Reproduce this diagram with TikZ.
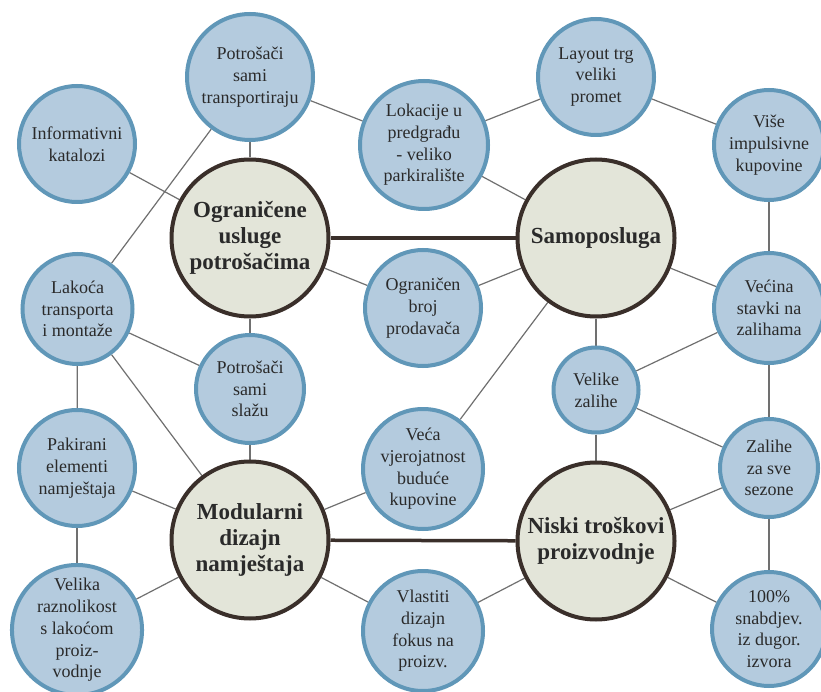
\documentclass[tikz,border=0pt]{standalone}
\usepackage{fontspec}
\setmainfont{Liberation Serif}
\usetikzlibrary{backgrounds}
\definecolor{bfill}{HTML}{B4CBDE}
\definecolor{bline}{HTML}{6097B8}
\definecolor{cfill}{HTML}{E3E5D9}
\definecolor{cline}{HTML}{3A2F2A}
\definecolor{eline}{HTML}{707070}
\definecolor{txt}{HTML}{2A2A2A}
\begin{document}
\begin{tikzpicture}[x=1pt,y=-1pt,
  sat/.style={circle, draw=bline, fill=bfill, line width=4pt, inner sep=0pt, align=center,
    font=\fontsize{18}{21.7}\selectfont, text=txt},
  hub/.style={circle, draw=cline, fill=cfill, line width=4pt, inner sep=0pt, align=center,
    font=\fontsize{23}{26.3}\selectfont\bfseries, text=txt, minimum size=157pt},
  thinedge/.style={draw=eline, line width=1.2pt},
  thickedge/.style={draw=cline, line width=3.5pt}]
\useasboundingbox (0,0) rectangle (821,692);

% hubs
\node[hub] (og) at (250,238) {Ograničene\\usluge\\potrošačima};
\node[hub] (sa) at (596,238) {Samoposluga};
\node[hub] (mo) at (250,540) {Modularni\\dizajn\\namještaja};
\node[hub] (ni) at (596,541) {Niski troškovi\\proizvodnje};

% satellites
\node[sat, minimum size=126pt] (pt) at (250,77) {Potrošači\\sami\\transportiraju};
\node[sat, minimum size=116pt] (ik) at (77,144) {Informativni\\katalozi};
\node[sat, minimum size=110pt] (la) at (77.5,309) {Lakoća\\transporta\\i montaže};
\node[sat, minimum size=128pt] (lo) at (424,145) {Lokacije u\\predgrađu\\- veliko\\parkiralište};
\node[sat, minimum size=116pt] (ob) at (423,308) {Ograničen\\broj\\prodavača};
\node[sat, minimum size=116pt] (ly) at (596,77) {Layout trg\\veliki\\promet};
\node[sat, minimum size=110pt] (vi) at (769,145) {Više\\impulsivne\\kupovine};
\node[sat, minimum size=110pt] (ve) at (769,308) {Većina\\stavki na\\zalihama};
\node[sat, minimum size=108pt] (ps) at (250,389) {Potrošači\\sami\\slažu};
\node[sat, minimum size=116pt] (pa) at (77,468) {Pakirani\\elementi\\namještaja};
\node[sat, minimum size=130pt] (vr) at (77,630) {Velika\\raznolikost\\s lakoćom\\proiz-\\vodnje};
\node[sat, minimum size=120pt] (vv) at (423,469) {Veća\\vjerojatnost\\buduće\\kupovine};
\node[sat, minimum size=120pt] (vd) at (423,631) {Vlastiti\\dizajn\\fokus na\\proizv.};
\node[sat, minimum size=85pt] (vz) at (596,390) {Velike\\zalihe};
\node[sat, minimum size=98pt] (zs) at (769,468) {Zalihe\\za sve\\sezone};
\node[sat, minimum size=114pt] (sn) at (769,629) {100\%\\snabdjev.\\iz dugor.\\izvora};

\begin{scope}[on background layer]
\fill[white] (0,0) rectangle (821,692);
\draw[thickedge] (og) -- (sa);
\draw[thickedge] (mo) -- (ni);
\draw[thinedge] (ik) -- (og);
\draw[thinedge] (pt) -- (og);
\draw[thinedge] (pt) -- (lo);
\draw[thinedge] (pt) -- (la);
\draw[thinedge] (lo) -- (sa);
\draw[thinedge] (lo) -- (ly);
\draw[thinedge] (ly) -- (vi);
\draw[thinedge] (vi) -- (ve);
\draw[thinedge] (ob) -- (og);
\draw[thinedge] (ob) -- (sa);
\draw[thinedge] (sa) -- (ve);
\draw[thinedge] (sa) -- (vv);
\draw[thinedge] (sa) -- (vz);
\draw[thinedge] (og) -- (ps);
\draw[thinedge] (la) -- (ps);
\draw[thinedge] (la) -- (mo);
\draw[thinedge] (la) -- (pa);
\draw[thinedge] (ps) -- (mo);
\draw[thinedge] (pa) -- (mo);
\draw[thinedge] (pa) -- (vr);
\draw[thinedge] (vr) -- (mo);
\draw[thinedge] (vv) -- (mo);
\draw[thinedge] (vd) -- (mo);
\draw[thinedge] (vd) -- (ni);
\draw[thinedge] (vz) -- (ni);
\draw[thinedge] (vz) -- (ve);
\draw[thinedge] (vz) -- (zs);
\draw[thinedge] (ve) -- (zs);
\draw[thinedge] (zs) -- (ni);
\draw[thinedge] (zs) -- (sn);
\draw[thinedge] (sn) -- (ni);
\end{scope}
\end{tikzpicture}
\end{document}
